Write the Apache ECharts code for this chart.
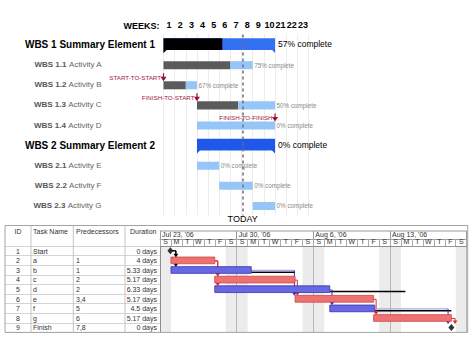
<!DOCTYPE html>
<html><head><meta charset="utf-8">
<script src="https://cdn.jsdelivr.net/npm/echarts@6/dist/echarts.min.js"></script>
<style>html,body{margin:0;padding:0;background:#fff}#c{width:474px;height:337px}</style>
</head><body><div id="c"></div>
<script>
// ---------- top WBS chart data ----------
const weekLabels = ['1','2','3','4','5','6','7','8','9','10','21','22','23'];
const weekAxisTitle = 'WEEKS:';
const wbsCodes = ['WBS 1','WBS 1.1','WBS 1.2','WBS 1.3','WBS 1.4','WBS 2','WBS 2.1','WBS 2.2','WBS 2.3'];
const wbsNames = ['Summary Element 1','Activity A','Activity B','Activity C','Activity D','Summary Element 2','Activity E','Activity F','Activity G'];
const wbsSummary = [true,false,false,false,false,true,false,false,false];
const wbsStart = [0,0,0,3,3,3,3,5,8];
const wbsDoneEnd = [5.27,6,2,6.7,3,3,3,5,8];
const wbsEnd = [10,8,3,10,10,10,5,8,10];
const wbsPercent = [57,75,67,50,0,0,0,0,0];
const depNames = ['START-TO-START','FINISH-TO-START','FINISH-TO-FINISH'];
const depRows = [2,3,4];
const depWeeks = [0,3,10];
const todayWeek = 7.1;

// ---------- bottom project table data ----------
const tableHeaders = ['ID','Task Name','Predecessors','Duration'];
const taskIds = ['1','2','3','4','5','6','7','8','9'];
const taskNames = ['Start','a','b','c','d','e','f','g','Finish'];
const taskPreds = ['','1','1','2','2','3,4','5','6','7,8'];
const taskDurations = ['0 days','4 days','5.33 days','5.17 days','6.33 days','5.17 days','4.5 days','5.17 days','0 days'];
const weekStartLabels = ["Jul 23, '06","Jul 30, '06","Aug 6, '06","Aug 13, '06"];
const dayLetters = ['S','M','T','W','T','F','S','S','M','T','W','T','F','S','S','M','T','W','T','F','S','S','M','T','W','T','F','S'];
const barRows = [1,2,3,4,5,6,7];
const barStart = [1,1,5,5,12.33,15.5,19.5];
const barEnd = [5,8.33,12.33,15.5,19.5,19.6,26.6];
const barCritical = [true,false,true,false,true,false,true];
const milestoneRows = [0,8];
const milestoneDays = [0.95,26.6];
const slackRows = [2,4,6];
const slackStart = [8.33,15.5,19.6];
const slackEnd = [12.33,22.4,26.6];
const weekendStart = [0,6,13,20,27];
const weekendEnd = [1,8,15,22,28];
const linkFromRow = [0,0,1,1,2,3,4,5,6,7];
const linkFromDay = [0.95,0.95,5,5,8.33,12.33,15.5,19.5,19.6,26.6];
const linkViaDay = [1.45,1.45,5.27,5.27,12.27,12.54,15.7,19.73,26.3,26.94];
const linkToRow = [1,2,3,4,5,5,6,7,8,8];
const linkKind = ['m','m','c','c','n','c','n','c','n','c'];

// ---------- styles ----------
const FONT = '"Liberation Sans", Arial, Helvetica, sans-serif';
const summaryRemainColors = {0:'#3371f2', 5:'#1f57ea'};
const RED = '#ef7272', RED_S = '#c94848', BLUE = '#6868e2', BLUE_S = '#3434b4';
const linkColors = {m:'#000', c:'#e02a2a', n:'#2a2ac8'};
const linkHColors = {m:'#000', c:'#e02a2a', n:'#aaaadf'};

function txt(text, x, y, size, fill, align, vAlign, weight) {
  return {type:'text', style:{text:text, x:x, y:y, fill:fill, fontSize:size, fontFamily:FONT, fontWeight:weight||'normal',
    align:align, verticalAlign:vAlign, textAlign:align, textVerticalAlign:vAlign}};
}

function renderWbs(params, api) {
  const row = api.value(0), s = api.value(1), d = api.value(2), e = api.value(3), summ = api.value(4), pct = api.value(5);
  const p0 = api.coord([s,row]), pd = api.coord([d,row]), p1 = api.coord([e,row]);
  const rowH = api.size([0,1])[1];
  const ch = [];
  if (summ) {
    const h = rowH*0.58, top = p0[1]-h/2-0.5, bot = top+h, tip = 3;
    const x0 = p0[0], x1 = p1[0], xd = pd[0];
    ch.push({type:'polygon', shape:{points:[[x0,top],[x1,top],[x1,bot+tip],[x1-tip,bot],[x0+tip,bot],[x0,bot+tip]]},
      style:{fill:summaryRemainColors[row] || '#2a64ee'}});
    if (xd > x0) {
      ch.push({type:'polygon', shape:{points:[[x0,top],[xd,top],[xd,bot],[x0+tip,bot],[x0,bot+tip]]}, style:{fill:'#000'}});
    }
    ch.push(txt(pct + '% complete', x1+3, p0[1]-0.5, 8.5, '#000', 'left', 'middle'));
  } else {
    const h = rowH*0.4, top = p0[1]-h/2+0.5;
    if (pd[0] > p0[0]) ch.push({type:'rect', shape:{x:p0[0], y:top, width:pd[0]-p0[0], height:h}, style:{fill:'#5b5b5b'}});
    if (p1[0] > pd[0]) ch.push({type:'rect', shape:{x:pd[0], y:top, width:p1[0]-pd[0], height:h}, style:{fill:'#96c6f7'}});
    ch.push(txt(pct + '% complete', p1[0]+1.5, p0[1]+0.5, 6.3, '#8a8a8a', 'left', 'middle'));
  }
  return {type:'group', children:ch};
}

function renderDep(params, api) {
  const row = api.value(0), wk = api.value(1), idx = api.value(2);
  const p = api.coord([wk,row]);
  const rowH = api.size([0,1])[1];
  const barTop = p[1] - rowH*0.2 + 0.5;
  const c = '#9b1028';
  return {type:'group', children:[
    {type:'line', shape:{x1:p[0], y1:barTop-8, x2:p[0], y2:barTop-3}, style:{stroke:c, lineWidth:1.2}},
    {type:'polygon', shape:{points:[[p[0]-3,barTop-4.5],[p[0]+3,barTop-4.5],[p[0],barTop]]}, style:{fill:c}},
    txt(depNames[idx], p[0]-2.5, barTop-3.8, 6.2, '#a3203a', 'right', 'middle')
  ]};
}

function renderBar(params, api) {
  const row = api.value(0), s = api.value(1), e = api.value(2), crit = api.value(3);
  const p0 = api.coord([s,row]), p1 = api.coord([e,row]);
  const h = api.size([0,1])[1]*0.7;
  return {type:'rect', shape:{x:p0[0], y:p0[1]-h/2, width:p1[0]-p0[0], height:h},
    style:{fill:crit ? RED : BLUE, stroke:crit ? RED_S : BLUE_S, lineWidth:0.8}};
}

function renderSlack(params, api) {
  const row = api.value(0), s = api.value(1), e = api.value(2);
  const p0 = api.coord([s,row]), p1 = api.coord([e,row]);
  return {type:'line', shape:{x1:p0[0], y1:p0[1]+2.3, x2:p1[0], y2:p0[1]+2.3}, style:{stroke:'#000', lineWidth:1.6}};
}

function renderLink(params, api) {
  const fr = api.value(0), fd = api.value(1), vd = api.value(2), tr = api.value(3);
  const kind = linkKind[params.dataIndex];
  const from = api.coord([fd,fr]), via = api.coord([vd,fr]), to = api.coord([vd,tr]);
  const rowH = api.size([0,1])[1];
  const isMs = milestoneRows.indexOf(tr) >= 0;
  const tTop = isMs ? to[1]-3.8 : to[1]-rowH*0.35;
  const hy = from[1] + (kind === 'm' ? 0 : 0.5);
  const fx = from[0] + (milestoneRows.indexOf(fr) >= 0 ? 2 : 0);
  const c = linkColors[kind];
  return {type:'group', children:[
    {type:'line', shape:{x1:fx, y1:hy, x2:via[0], y2:hy}, style:{stroke:linkHColors[kind], lineWidth:kind==='n'?1.4:1}},
    {type:'line', shape:{x1:via[0], y1:hy, x2:via[0], y2:tTop-2.5}, style:{stroke:c, lineWidth:1}},
    {type:'polygon', shape:{points:[[via[0]-2.4,tTop-3.2],[via[0]+2.4,tTop-3.2],[via[0],tTop+0.3]]}, style:{fill:c}}
  ]};
}

// ---------- layout constants ----------
const tblLeft = 5, tblTop = 225.5, tblBottom = 332.4, chartLeft = 160, chartRight = 466.7, dateRowTop = 231;
const colEdges = [31, 73.3, 125];
const headerX = [18, 33, 76, 130];
const headerAlign = ['center','left','left','left'];
const cellX = [18, 33, 76, 157];
const cellAlign = ['center','left','left','right'];

function renderTableRow(params, api) {
  const i = params.dataIndex;
  const y = api.coord([0, api.value(0)])[1];
  const vals = [taskIds[i], taskNames[i], taskPreds[i], taskDurations[i]];
  return {type:'group', children: vals.map((v,c)=>txt(v, cellX[c], y+0.3, 7, '#333', cellAlign[c], 'middle'))};
}

const graphics = [
  {type:'rect', shape:{x:tblLeft, y:tblTop, width:chartRight-tblLeft+1, height:tblBottom-tblTop}, style:{fill:'none', stroke:'#a3a3a3', lineWidth:1}, z:10},
  {type:'line', shape:{x1:chartLeft, y1:dateRowTop, x2:chartRight, y2:dateRowTop}, style:{stroke:'#999', lineWidth:1}, z:10}
];
colEdges.forEach(x => graphics.push({type:'line', shape:{x1:x, y1:tblTop, x2:x, y2:tblBottom}, style:{stroke:'#c4c4c4', lineWidth:1}, z:10}));
tableHeaders.forEach((h,i) => {
  const t = txt(h, headerX[i], 231, 7, '#333', headerAlign[i], 'middle');
  t.z = 10;
  graphics.push(t);
});
const wt = txt(weekAxisTitle, 159.5, 25.5, 9, '#000', 'right', 'middle', 'bold');
wt.z = 10;
graphics.push(wt);

const option = {
  animation:false,
  backgroundColor:'#fff',
  textStyle:{fontFamily:FONT},
  graphic:{elements:graphics},
  grid:[
    {left:163.5, top:34.5, width:145, height:181},
    {left:chartLeft, top:246, width:chartRight-chartLeft, height:tblBottom-246}
  ],
  xAxis:[
    {gridIndex:0, type:'category', data:weekLabels, position:'top', boundaryGap:true,
     axisLine:{show:false}, axisTick:{show:false},
     axisLabel:{interval:0, margin:5, fontSize:9, fontWeight:'bold', color:'#000'},
     splitLine:{show:true, interval:0, lineStyle:{color:'#ececec', width:1}}},
    {gridIndex:0, type:'value', min:0, max:13, show:false},
    {gridIndex:1, type:'value', min:0, max:28, interval:7, position:'top',
     axisLine:{show:true, lineStyle:{color:'#999'}}, axisTick:{show:false}, axisLabel:{show:false},
     splitLine:{show:true, lineStyle:{color:'#c6c6c6'}}},
    {gridIndex:1, type:'category', data:dayLetters.map((d,i)=>String(i)), position:'top', boundaryGap:true,
     axisLine:{show:true, lineStyle:{color:'#999'}}, axisTick:{show:true, interval:0, length:7, lineStyle:{color:'#aaa'}},
     axisLabel:{interval:0, margin:1.5, fontSize:7, color:'#333', formatter:(v,i)=>dayLetters[i]}, splitLine:{show:false}},
    {gridIndex:1, type:'value', min:0, max:28, interval:7, position:'top', offset:7,
     axisLine:{show:true, lineStyle:{color:'#999'}}, axisTick:{show:true, length:8, lineStyle:{color:'#999'}},
     axisLabel:{margin:1.5, fontSize:7, color:'#333', align:'left', padding:[0,0,0,2],
       formatter:v=>weekStartLabels[Math.round(v/7)] || ''},
     splitLine:{show:false}}
  ],
  yAxis:[
    {gridIndex:0, type:'category', data:wbsCodes, inverse:true,
     axisLine:{show:false}, axisTick:{show:false}, splitLine:{show:false},
     axisLabel:{interval:0, margin:8.5,
       formatter:(v,i)=> wbsSummary[i] ? '{s|' + wbsCodes[i] + ' ' + wbsNames[i] + '}'
                                         : '{c|' + wbsCodes[i] + '}{n| ' + wbsNames[i] + '}{g| }',
       rich:{
         s:{fontSize:10, fontWeight:'bold', color:'#000', fontFamily:FONT},
         c:{fontSize:8, fontWeight:'bold', color:'#575757', fontFamily:FONT},
         n:{fontSize:8, color:'#666', fontFamily:FONT},
         g:{width:53.5, fontSize:8}
       }}},
    {gridIndex:1, type:'category', data:taskIds, inverse:true,
     axisLine:{show:true, lineStyle:{color:'#999'}},
     axisTick:{show:true, interval:0, length:155, lineStyle:{color:'#d4d4d4'}},
     splitLine:{show:false}, axisLabel:{show:false}}
  ],
  series:[
    {type:'custom', name:'wbs', xAxisIndex:1, yAxisIndex:0, renderItem:renderWbs, encode:{x:[1,3], y:0},
     data:wbsCodes.map((c,i)=>[i, wbsStart[i], wbsDoneEnd[i], wbsEnd[i], wbsSummary[i]?1:0, wbsPercent[i]]),
     markLine:{silent:true, symbol:'none', data:[{xAxis:todayWeek}],
       lineStyle:{type:[3,3], color:'#6f6f78', width:1.5},
       label:{show:true, position:'end', formatter:'TODAY', fontSize:9, color:'#000', distance:-1, fontFamily:FONT}}},
    {type:'custom', name:'deps', xAxisIndex:1, yAxisIndex:0, renderItem:renderDep, encode:{x:1, y:0},
     data:depRows.map((r,i)=>[r, depWeeks[i], i])},
    {type:'custom', name:'slack', xAxisIndex:2, yAxisIndex:1, renderItem:renderSlack, encode:{x:[1,2], y:0},
     data:slackRows.map((r,i)=>[r, slackStart[i], slackEnd[i]]),
     markArea:{silent:true, itemStyle:{color:'rgba(0,0,0,0.075)'},
       data:weekendStart.map((s,i)=>[{xAxis:s},{xAxis:weekendEnd[i]}])}},
    {type:'custom', name:'links', xAxisIndex:2, yAxisIndex:1, renderItem:renderLink, encode:{x:[1,2], y:0},
     data:linkFromRow.map((r,i)=>[r, linkFromDay[i], linkViaDay[i], linkToRow[i]])},
    {type:'custom', name:'bars', xAxisIndex:2, yAxisIndex:1, renderItem:renderBar, encode:{x:[1,2], y:0},
     data:barRows.map((r,i)=>[r, barStart[i], barEnd[i], barCritical[i]?1:0])},
    {type:'scatter', name:'milestones', xAxisIndex:2, yAxisIndex:1, symbol:'diamond', symbolSize:[6,7],
     itemStyle:{color:'#000'}, data:milestoneDays.map((d,i)=>[d, milestoneRows[i]])},
    {type:'custom', name:'table', xAxisIndex:2, yAxisIndex:1, renderItem:renderTableRow, encode:{y:0}, clip:false,
     data:taskIds.map((id,i)=>[i])}
  ]
};

const chart = echarts.init(document.getElementById('c'), null, {renderer:'svg'});
chart.setOption(option);
</script>
</body></html>
